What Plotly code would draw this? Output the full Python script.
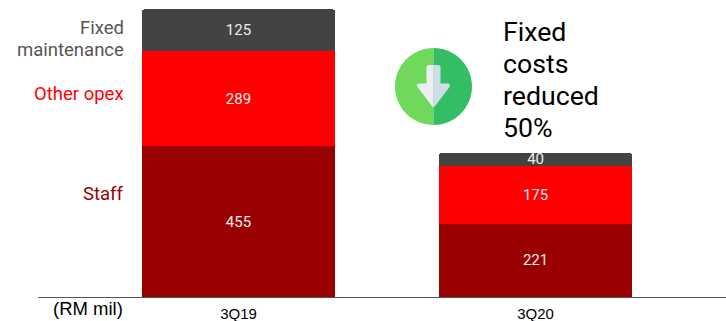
import plotly.graph_objects as go

# Quarterly cost breakdown, RM million
quarters = ["3Q19", "3Q20"]
staff = [455, 221]
other_opex = [289, 175]
fixed_maintenance = [125, 40]

W, H = 726, 321
LEFT, BASE = 38, 297


def px(x):
    return (x - LEFT) / (W - LEFT)


def py(y):
    return (BASE - y) / BASE


def path(points):
    """Build a closed paper-space path from pixel-space commands."""
    out = []
    for cmd, *coords in points:
        pairs = [f"{px(coords[i]):.5f},{py(coords[i + 1]):.5f}" for i in range(0, len(coords), 2)]
        out.append(cmd + " ".join(pairs))
    return " ".join(out) + " Z"


def shape(points, color):
    return dict(type="path", xref="paper", yref="paper", path=path(points),
                fillcolor=color, line=dict(width=0), layer="above")


# Down-arrow badge: a two-tone disc with a two-tone arrow
cx, cy, r = 433.5, 86.5, 38.5
k = 0.5523 * r
left_disc = [("M", cx, cy - r), ("C", cx - k, cy - r, cx - r, cy - k, cx - r, cy),
             ("C", cx - r, cy + k, cx - k, cy + r, cx, cy + r)]
right_disc = [("M", cx, cy - r), ("C", cx + k, cy - r, cx + r, cy - k, cx + r, cy),
              ("C", cx + r, cy + k, cx + k, cy + r, cx, cy + r)]
left_arrow = [("M", cx, 65), ("L", 429, 65), ("Q", 426.5, 65, 426.5, 67.5), ("L", 426.5, 83.5),
              ("L", 419, 83.5), ("Q", 415.5, 84, 417.5, 87), ("L", 431.5, 105.5),
              ("Q", 433.5, 107.5, cx, 107.5)]
right_arrow = [("M", cx, 65), ("L", 438, 65), ("Q", 440.5, 65, 440.5, 67.5), ("L", 440.5, 83.5),
               ("L", 448, 83.5), ("Q", 451.5, 84, 449.5, 87), ("L", 435.5, 105.5),
               ("Q", 433.5, 107.5, cx, 107.5)]

badge = [shape(left_disc, "#70D95B"), shape(right_disc, "#33BE66"),
         shape(left_arrow, "#EDEFF2"), shape(right_arrow, "#CFDDE6")]

fig = go.Figure()
for values, color in [(staff, "#990000"), (other_opex, "#FF0000"), (fixed_maintenance, "#434343")]:
    fig.add_bar(x=quarters, y=values, marker=dict(color=color, line=dict(width=0)),
                text=values, textposition="inside", insidetextanchor="middle",
                textangle=0, constraintext="none",
                textfont=dict(family="Roboto", size=15, color="#EEEEEE"))


def note(x, y, text, color, size, family="Roboto", anchor="right"):
    nudge = 2 if anchor == "right" else -3
    return dict(xref="paper", yref="paper", x=px(x + nudge), y=py(y), text=text, showarrow=False,
                xanchor=anchor, yanchor="middle", align=anchor,
                font=dict(family=family, size=size, color=color))


notes = [
    note(123.5, 28.5, "Fixed", "#555555", 18.5),
    note(123.5, 50.5, "maintenance", "#555555", 18.5),
    note(123.5, 94, "Other opex", "#FF0000", 18.5),
    note(123.5, 194, "Staff", "#990000", 18.5),
    note(123, 308, "(RM mil)", "#000000", 18.5, "Liberation Sans"),
]
for y, line in zip([32, 64, 96, 128], ["Fixed", "costs", "reduced", "50%"]):
    notes.append(note(504, y, line, "#000000", 26.7, "Roboto", "left"))

fig.update_layout(
    width=W, height=H, margin=dict(l=LEFT, r=0, t=0, b=H - BASE, pad=0),
    autosize=False, barmode="stack", bargap=0.35, barcornerradius=3,
    showlegend=False, paper_bgcolor="white", plot_bgcolor="white",
    annotations=notes, shapes=badge,
    xaxis=dict(type="category", range=[-0.675, 1.641], showgrid=False, ticks="",
               showline=True, linecolor="#555555", linewidth=1, ticklabelstandoff=3,
               tickfont=dict(family="Liberation Sans", size=15, color="#000000")),
    yaxis=dict(range=[0, 897], visible=False),
)

fig.write_html("out.html", config=dict(displayModeBar=False))
